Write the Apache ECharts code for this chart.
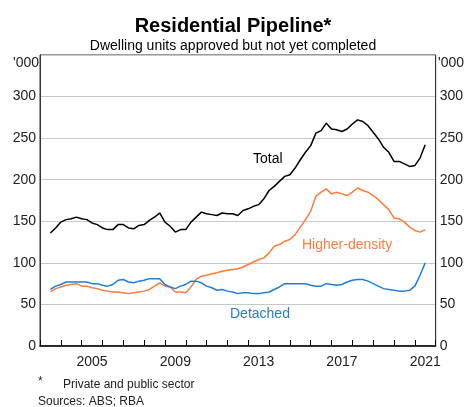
<!DOCTYPE html>
<html>
<head>
<meta charset="utf-8">
<script src="https://cdn.jsdelivr.net/npm/echarts@6/dist/echarts.min.js"></script>
<style>
html,body{margin:0;padding:0;background:#fff;}
#chart{width:466px;height:407px;}
</style>
</head>
<body>
<div id="chart"></div>
<script>
// Quarterly observations, first quarter = mid-2003
var firstYear = 2003.5;
var total = [136,142,149,152,153,155,153,152,148,146,142,140,140,146,146,142,141,145,146,151,155,160,149,144,137,140,140,149,155,161,159,158,157,160,159,159,157,163,165,168,170,177,187,192,198,204,206,214,224,233,241,256,259,268,261,260,258,261,267,272,270,265,257,249,239,233,222,222,219,216,217,226,242];
var higherDensity = [65,69,71,73,74,75,72,72,70,69,67,66,65,65,64,63,64,65,66,68,72,76,72,71,65,65,64,71,80,84,85,87,88,90,91,92,93,95,98,101,104,106,112,120,122,126,128,134,143,152,162,180,185,189,183,185,183,181,185,190,187,185,181,176,170,164,154,153,149,143,139,137,140];
var detached = [68,72,74,77,77,77,77,77,75,75,73,72,74,79,80,77,76,78,79,81,81,81,74,71,69,72,74,78,78,76,72,70,67,68,66,65,63,64,64,63,63,64,65,68,71,75,75,75,75,75,73,72,72,75,74,73,74,77,79,80,80,78,75,72,69,68,67,66,66,67,72,85,100];
var yearLabels = [2005, 2009, 2013, 2017, 2021];
var yTicks = [0, 50, 100, 150, 200, 250, 300];

function toPairs(arr){ return arr.map(function(v,i){ return [firstYear + i/4, v]; }); }

var FONT = '"Liberation Sans", Arial, sans-serif';
var chart = echarts.init(document.getElementById('chart'), null, {renderer:'canvas'});
var yAxisBase = {
  type:'value', min:0, max:350, interval:50,
  axisLine:{show:true, lineStyle:{color:'#333', width:1}},
  axisTick:{show:false},
  splitLine:{show:true, lineStyle:{color:'#c8c8c8', width:1}},
  axisLabel:{color:'#222', fontSize:14, fontFamily:FONT, margin:4,
    formatter:function(v){ return yTicks.indexOf(v) >= 0 ? String(v) : ''; }}
};
chart.setOption({
  animation:false,
  backgroundColor:'#fff',
  title:[
    {text:'Residential Pipeline*', left:'center', top:11,
     textStyle:{fontSize:20, fontWeight:'bold', color:'#000', fontFamily:FONT}},
    {text:'Dwelling units approved but not yet completed', left:'center', top:34,
     textStyle:{fontSize:14, fontWeight:'normal', color:'#000', fontFamily:FONT}}
  ],
  grid:{left:40, right:30, top:55, bottom:61, show:true, borderColor:'#333', borderWidth:1, containLabel:false},
  xAxis:{
    type:'value', min:2003, max:2022, interval:1,
    axisLine:{show:true, onZero:false, lineStyle:{color:'#000', width:1.5}},
    axisTick:{show:true, inside:true, length:6, lineStyle:{color:'#000', width:1}},
    splitLine:{show:false},
    axisLabel:{customValues: yearLabels.map(function(y){return y+0.5;}), color:'#222', fontSize:14, fontFamily:FONT, margin:9,
      formatter:function(v){ return String(Math.floor(v)); }}
  },
  yAxis:[
    Object.assign({}, yAxisBase, {position:'left'}),
    Object.assign({}, yAxisBase, {position:'right', splitLine:{show:false}})
  ],
  series:[
    {name:'Total', type:'line', data:toPairs(total), showSymbol:false, lineStyle:{color:'#000', width:1.5}, z:3},
    {name:'Higher-density', type:'line', data:toPairs(higherDensity), showSymbol:false, lineStyle:{color:'#ff7b39', width:1.5}, z:2},
    {name:'Detached', type:'line', data:toPairs(detached), showSymbol:false, lineStyle:{color:'#1f7fd6', width:1.5}, z:2}
  ],
  graphic:[
    {type:'text', left:13, top:56, style:{text:"'000", fontSize:14, fontFamily:FONT, fill:'#222'}},
    {type:'text', left:438, top:56, style:{text:"'000", fontSize:14, fontFamily:FONT, fill:'#222'}},
    {type:'text', left:253, top:152, style:{text:'Total', fontSize:14, fontFamily:FONT, fill:'#000'}},
    {type:'text', left:302, top:238, style:{text:'Higher-density', fontSize:14, fontFamily:FONT, fill:'#ff7b39'}},
    {type:'text', left:230, top:307, style:{text:'Detached', fontSize:14, fontFamily:FONT, fill:'#1f7fd6'}},
    {type:'text', left:38, top:376, style:{text:'*', fontSize:12, fontFamily:FONT, fill:'#222'}},
    {type:'text', left:63, top:379, style:{text:'Private and public sector', fontSize:12, fontFamily:FONT, fill:'#222'}},
    {type:'text', left:38, top:396, style:{text:'Sources: ABS; RBA', fontSize:12, fontFamily:FONT, fill:'#222'}}
  ]
});
</script>
</body>
</html>
